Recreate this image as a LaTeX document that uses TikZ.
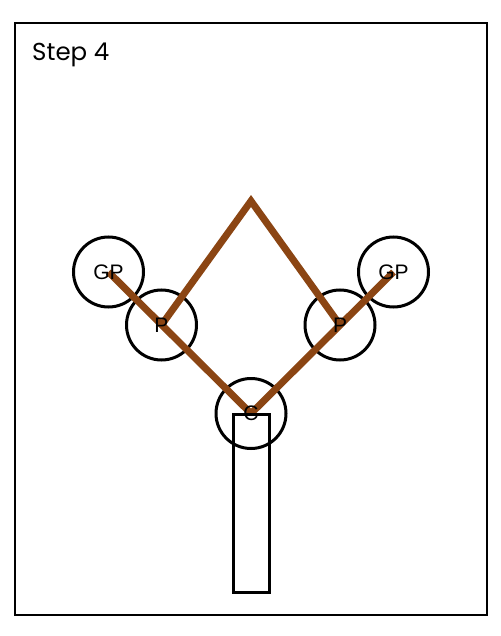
\documentclass[tikz,border=0pt]{standalone}
\usepackage{fontspec}
\setmainfont{Liberation Sans}
\newfontfamily\poppins{Poppins}
\begin{document}
\begin{tikzpicture}[x=1pt,y=-1pt,
  ring/.style={circle, draw=black, line width=3pt, minimum size=70pt, inner sep=0pt},
  lbl/.style={inner sep=0pt, font=\fontsize{21}{24}\selectfont},
  branch/.style={draw=brownc, line width=7pt, line join=miter},
  trunkbox/.style={rectangle, draw=black, line width=3pt, minimum width=36pt, minimum height=178pt, inner sep=0pt}]
\definecolor{brownc}{HTML}{8B4513}
\useasboundingbox (0,0) rectangle (500,636);
\draw[line width=1.5pt] (15,23) rectangle (487,615);
\node[anchor=base west, inner sep=0pt, font=\poppins\fontsize{24.5}{28}\selectfont] (title) at (32,61) {Step 4};
\node[ring] (gpl) at (108.5,272) {};
\node[ring] (pl) at (161.5,325) {};
\node[ring] (gpr) at (393.5,272) {};
\node[ring] (pr) at (340,325) {};
\node[ring] (c) at (251,413.5) {};
\coordinate (apex) at (251,201);
\draw[branch] (gpl.center) -- (c.center);
\draw[branch] (gpr.center) -- (c.center);
\draw[branch] (pl.center) -- (apex) -- (pr.center);
\node[lbl] (gpltext) at (gpl.center) {GP};
\node[lbl] (pltext) at (pl.center) {P};
\node[lbl] (gprtext) at (gpr.center) {GP};
\node[lbl] (prtext) at (pr.center) {P};
\node[lbl] (ctext) at (c.center) {C};
\node[trunkbox] (trunk) at (251,503) {};
\end{tikzpicture}
\end{document}
